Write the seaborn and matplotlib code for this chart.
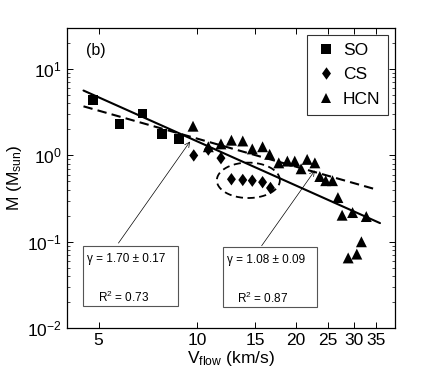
import numpy as np
import pandas as pd
import matplotlib
matplotlib.use('Agg')
import matplotlib.pyplot as plt
from matplotlib.patches import Rectangle
import seaborn as sns

# values (log-log)
so_v = [4.8, 5.8, 6.8, 7.8, 8.8]
so_m = [4.4, 2.3, 3.05, 1.78, 1.56]

cs_v = [9.75, 10.8, 11.8, 12.7, 13.75, 14.7, 15.8, 16.7]
cs_m = [1.0, 1.17, 0.93, 0.53, 0.52, 0.51, 0.49, 0.42]

hcn_v = [9.7, 10.8, 11.8, 12.7, 13.75, 14.7, 15.8, 16.6, 17.7, 18.8, 19.8,
         20.7, 21.6, 22.8, 23.6, 24.6, 25.8, 26.8, 27.6, 29.7, 32.7, 28.8, 30.6, 31.6]
hcn_m = [2.18, 1.26, 1.36, 1.50, 1.47, 1.19, 1.26, 1.03, 0.82, 0.86, 0.86,
         0.70, 0.90, 0.82, 0.57, 0.51, 0.51, 0.325, 0.203, 0.218, 0.196, 0.065, 0.072, 0.10]

# power-law fits M = A * V^-gamma
fit_gamma = [1.70, 1.08]
fit_amp = [72.8, 18.8]
fit_err = [0.17, 0.09]
fit_r2 = [0.73, 0.87]
fit_range = [[4.5, 36.0], [4.5, 35.0]]

df = pd.concat([
    pd.DataFrame({'v': so_v, 'm': so_m, 'mol': 'SO'}),
    pd.DataFrame({'v': cs_v, 'm': cs_m, 'mol': 'CS'}),
    pd.DataFrame({'v': hcn_v, 'm': hcn_m, 'mol': 'HCN'}),
])

sns.set_style('ticks', {'axes.edgecolor': 'black', 'xtick.color': 'black',
                        'ytick.color': 'black', 'text.color': 'black',
                        'axes.labelcolor': 'black'})
plt.rcParams['font.family'] = ['Liberation Sans', 'DejaVu Sans']
plt.rcParams['mathtext.default'] = 'regular'

fig, ax = plt.subplots(figsize=(4.36, 3.82), dpi=100)
fig.subplots_adjust(left=0.153, right=0.906, bottom=0.141, top=0.927)

diamond = [(0, 1), (0.72, 0), (0, -1), (-0.72, 0), (0, 1)]
sns.scatterplot(data=df, x='v', y='m', style='mol', size='mol',
                markers={'SO': 's', 'CS': diamond, 'HCN': '^'},
                sizes={'SO': 48, 'CS': 80, 'HCN': 62},
                color='black', edgecolor='black', linewidth=0, ax=ax, zorder=3)

# fit lines
styles = ['-', (0, (4.5, 2.5))]
for g, a, rng, ls in zip(fit_gamma, fit_amp, fit_range, styles):
    xs = np.array(rng)
    sns.lineplot(x=xs, y=a * xs ** (-g), color='black', lw=1.5, ax=ax,
                 linestyle=ls, legend=False)

# dashed ellipse around the low CS group
t = np.linspace(0, 2 * np.pi, 200)
ex = 10 ** (np.log10(14.3) + 0.096 * np.cos(t))
ey = 10 ** (np.log10(0.515) + 0.205 * np.sin(t))
ax.plot(ex, ey, color='black', lw=1.3, linestyle=(0, (4, 2.5)))

ax.set(xscale='log', yscale='log', xlim=(4, 40), ylim=(1e-2, 30))
ax.set_xticks([5, 10, 15, 20, 25, 30, 35])
ax.set_xticklabels(['5', '10', '15', '20', '25', '30', '35'])
ax.xaxis.set_minor_locator(matplotlib.ticker.NullLocator())
ax.tick_params(which='both', direction='in', top=True, right=True, labelsize=12.5)
ax.tick_params(which='major', length=4, width=0.7)
ax.tick_params(which='minor', length=2, width=0.5)
for s in ax.spines.values():
    s.set_linewidth(0.9)

ax.set_xlabel('V$_{flow}$ (km/s)', fontsize=12.5, labelpad=1)
ax.set_ylabel('M (M$_{sun}$)', fontsize=12.5, labelpad=2)
ax.text(0.06, 0.925, '(b)', transform=ax.transAxes, fontsize=11.5, va='center')

# annotation boxes + arrows
boxes = [(0.049, 0.073, 0.291, 0.201), (0.475, 0.071, 0.288, 0.198)]
gpos = [(0.061, 0.229), (0.487, 0.227)]
rpos = [(0.096, 0.104), (0.52, 0.099)]
tails = [(5.75, 0.0966), (15.7, 0.09)]
heads = [(9.5, 1.45), (22.8, 0.67)]
for i in range(2):
    x0, y0, w, h = boxes[i]
    ax.add_patch(Rectangle((x0, y0), w, h, transform=ax.transAxes, fill=True,
                           facecolor='white', edgecolor='#555555', lw=0.8, zorder=4))
    ax.text(*gpos[i], f'γ = {fit_gamma[i]:.2f} ± {fit_err[i]:.2f}', transform=ax.transAxes,
            fontsize=8.5, va='center', zorder=5)
    ax.text(*rpos[i], f'R$^2$ = {fit_r2[i]:.2f}', transform=ax.transAxes,
            fontsize=8.5, va='center', zorder=5)
    ax.annotate('', xy=heads[i], xytext=tails[i],
                arrowprops=dict(arrowstyle='->', lw=0.5, color='black', mutation_scale=9,
                                shrinkA=0, shrinkB=0))

leg = ax.legend(loc='upper right', fontsize=12.5, frameon=True, fancybox=False,
                edgecolor='black', borderpad=0.45, handletextpad=0.3, labelspacing=0.55,
                markerscale=1.0, handlelength=1.3, borderaxespad=0,
                bbox_to_anchor=(0.979, 0.977))
leg.get_frame().set_linewidth(0.8)

fig.savefig('out.png', dpi=100)
